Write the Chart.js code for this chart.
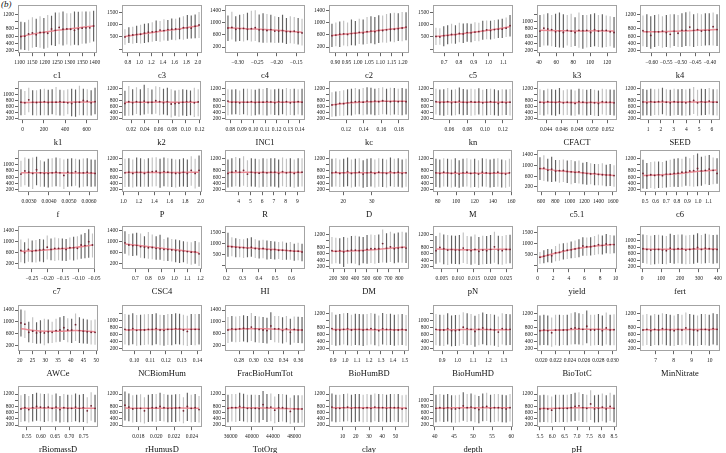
<!DOCTYPE html>
<html>
<head>
<meta charset="utf-8">
<script src="https://cdn.jsdelivr.net/npm/chart.js@4.4.1/dist/chart.umd.min.js"></script>
<style>
  html, body { margin: 0; padding: 0; background: #fff; }
  #wrap { position: relative; width: 726px; height: 453px; overflow: hidden; }
  #wrap canvas { position: absolute; }
  #tag { position: absolute; left: 1px; top: -1px; font: italic 9px "Liberation Serif", serif; color: #111; }
</style>
</head>
<body>
<div id="wrap"><div id="tag">(b)</div></div>
<script>
// one panel per input parameter, read left to right, top to bottom
const names = ['c1','c3','c4','c2','c5','k3','k4',
  'k1','k2','INC1','kc','kn','CFACT','SEED',
  'f','P','R','D','M','c5.1','c6',
  'c7','CSC4','HI','DM','pN','yield','fert',
  'AWCe','NCBiomHum','FracBioHumTot','BioHumBD','BioHumHD','BioTotC','MinNitrate',
  'rBiomassD','rHumusD','TotOrg','clay','depth','pH'];

// first and last bin centre on the x axis
const xSpan = [[1105,1395],[0.75,2.02],[-0.325,-0.135],[0.885,1.215],[0.645,1.145],[41,128],[-0.63,-0.375],
  [-15,680],[0.011,0.118],[0.078,0.142],[0.104,0.188],[0.045,0.128],[0.0432,0.0528],[0.6,6.4],
  [0.0026,0.0063],[1.02,1.98],[3.1,9.4],[16,42],[78,158],[585,1615],[0.48,1.18],
  [-0.285,-0.055],[0.62,1.19],[0.21,0.665],[190,860],[0.0032,0.0262],[0.3,9.8],[5,395],
  [20.5,49.5],[0.094,0.141],[0.265,0.365],[0.89,1.51],[0.86,1.34],[0.0198,0.0302],[6.3,10.4],
  [0.53,0.79],[0.0165,0.0248],[35500,49500],[2,58],[40.3,59.7],[5.5,8.5]];

const xTicks = [[1100,1150,1200,1250,1300,1350,1400],[0.8,1.0,1.2,1.4,1.6,1.8,2.0],[-0.30,-0.25,-0.20,-0.15],
  [0.90,0.95,1.00,1.05,1.10,1.15,1.20],[0.7,0.8,0.9,1.0,1.1],[40,60,80,100,120],[-0.60,-0.55,-0.50,-0.45,-0.40],
  [0,200,400,600],[0.02,0.04,0.06,0.08,0.10,0.12],[0.08,0.09,0.10,0.11,0.12,0.13,0.14],[0.12,0.14,0.16,0.18],
  [0.06,0.08,0.10,0.12],[0.044,0.046,0.048,0.050,0.052],[1,2,3,4,5,6],
  [0.0030,0.0040,0.0050,0.0060],[1.0,1.2,1.4,1.6,1.8,2.0],[4,5,6,7,8,9],[20,30],[80,100,120,140,160],
  [600,800,1000,1200,1400,1600],[0.5,0.6,0.7,0.8,0.9,1.0,1.1],
  [-0.25,-0.20,-0.15,-0.10,-0.05],[0.7,0.8,0.9,1.0,1.1,1.2],[0.2,0.3,0.4,0.5,0.6],[200,300,400,500,600,700,800],
  [0.005,0.010,0.015,0.020,0.025],[0,2,4,6,8,10],[0,100,200,300,400],
  [20,25,30,35,40,45,50],[0.10,0.11,0.12,0.13,0.14],[0.28,0.30,0.32,0.34,0.36],[0.9,1.0,1.1,1.2,1.3,1.4,1.5],
  [0.9,1.0,1.1,1.2,1.3],[0.020,0.022,0.024,0.026,0.028,0.030],[7,8,9,10],
  [0.55,0.60,0.65,0.70,0.75],[0.018,0.020,0.022,0.024],[36000,40000,44000,48000],[10,20,30,40,50],
  [40,45,50,55,60],[5.5,6.0,6.5,7.0,7.5,8.0,8.5]];
const xDec = [0,1,2,2,1,0,2, 0,2,2,2,2,3,0, 4,1,0,0,0,0,1, 2,1,1,0,3,0,0, 0,2,2,1,1,3,0, 2,3,0,0,0,1];

// y axis kind per panel and the tick whose label is left out
const yKind = 'acbbcaa' + 'aaaaaaa' + 'aaaaaba' + 'bbcaaca' + 'babaaaa' + 'aaaaaa';
const yBlank = [1000,0,0,0,0,1200,1000, 1200,1000,1000,1000,1000,1000,1000,
  1200,1000,1000,1000,1000,0,1000, 0,0,0,1000,1000,0,1200,
  0,1200,0,1000,1200,1000,1000, 1000,1000,1000,1000,1200,1000];
const yTicksA = [200,400,600,800,1000,1200];
const yTicksB = [200,600,1000,1400];
const yTicksC = [0,500,1000,1500];

// bin means
const means = [
  [590,600,660,690,640,700,700,680,800,760,840,790,800,790,760,800,820,830,830,880],
  [500,560,580,600,610,660,700,710,720,780,760,800,820,830,810,880,870,860,940,990],
  [820,840,780,800,810,780,800,830,760,760,740,770,720,720,740,700,700,720,680,660],
  [570,590,620,630,610,640,650,680,660,700,720,700,740,740,760,780,780,800,820,850],
  [520,500,550,560,600,590,640,620,680,670,700,720,750,790,760,800,820,820,860,960],
  [740,820,800,780,720,740,700,760,740,700,760,750,760,700,780,740,760,760,720,700],
  [750,720,620,720,720,740,700,650,740,680,760,760,850,760,780,740,760,760,860,780],
  [740,720,820,740,730,740,760,730,740,740,760,740,720,700,740,740,800,780,720,760],
  [700,760,720,760,740,780,730,740,790,760,720,760,680,700,710,740,760,770,720,750],
  [780,740,740,720,740,740,760,730,740,740,760,750,720,760,740,760,720,740,760,740],
  [650,660,700,690,720,740,760,760,740,780,760,780,760,790,770,760,780,760,770,760],
  [760,730,740,760,720,740,780,740,730,760,740,750,720,740,760,740,700,740,720,740],
  [740,720,760,740,730,760,720,740,730,700,760,740,720,740,720,700,760,740,740,720],
  [750,720,760,740,760,780,740,720,760,740,740,720,760,800,720,760,740,780,740,740],
  [700,800,760,720,840,740,720,720,740,760,740,660,760,740,780,740,740,760,740,720],
  [740,760,720,760,760,720,760,780,790,740,780,760,740,720,730,760,720,820,720,820],
  [720,760,800,760,820,700,760,740,730,760,740,760,760,720,780,740,760,720,760,760],
  [740,760,720,740,780,720,740,760,700,740,760,720,760,740,720,780,740,760,720,740],
  [740,720,760,740,720,760,700,740,760,720,740,700,760,740,720,740,760,720,700,740],
  [880,900,820,860,780,800,810,770,760,740,760,720,700,680,700,660,650,640,640,620],
  [720,650,680,660,680,650,700,700,720,730,760,760,800,810,880,800,820,860,820,720],
  [680,600,720,650,680,700,720,800,720,760,760,760,720,780,780,760,880,860,1000,880],
  [960,880,860,870,820,800,780,790,760,740,720,720,700,680,660,660,640,620,630,560],
  [880,860,840,820,820,800,840,780,760,780,740,720,740,700,700,690,680,660,660,620],
  [700,680,700,660,700,720,720,700,700,740,760,760,760,920,780,820,760,780,800,780],
  [700,800,760,720,740,720,720,780,720,700,740,680,720,700,740,820,720,700,740,740],
  [380,430,480,450,580,600,680,700,720,760,800,900,860,860,900,960,920,990,960,960],
  [760,740,720,740,740,720,700,780,740,760,760,720,740,760,800,740,780,760,740,740],
  [960,920,640,680,620,640,620,660,640,700,720,800,720,720,900,700,680,660,640,640],
  [760,740,780,730,740,740,760,760,780,740,730,760,760,780,770,740,700,760,760,760],
  [720,760,740,760,780,760,820,760,740,720,700,860,760,760,700,760,640,740,720,720],
  [780,740,740,760,780,740,760,760,740,760,780,760,720,780,760,760,740,740,760,740],
  [760,740,740,780,720,720,740,820,780,760,700,760,800,760,760,740,680,780,760,760],
  [720,740,720,660,740,740,740,740,780,800,780,760,850,740,740,760,720,800,740,750],
  [740,760,720,760,740,780,760,740,720,760,740,800,760,740,720,760,760,740,780,760],
  [720,760,700,760,800,780,760,780,740,780,700,760,740,740,780,740,760,660,820,740],
  [840,780,720,740,740,660,740,760,760,800,760,740,740,750,760,660,800,740,760,700],
  [740,760,760,800,770,740,740,740,730,860,760,780,680,760,760,740,640,720,720,720],
  [780,740,740,760,780,740,760,760,740,760,740,780,760,760,740,760,760,760,720,740],
  [740,760,740,760,720,720,740,820,760,780,740,700,780,800,740,760,760,740,720,760],
  [720,740,720,680,740,740,740,740,760,800,820,760,740,880,720,740,780,720,800,740]
];

// lower ends of the interval bars
const lows = [
  [230,220,200,280,300,280,250,280,350,330,380,340,370,340,360,350,390,400,420,450],
  [180,250,220,250,230,250,280,300,330,300,350,340,380,360,400,380,420,430,440,460],
  [400,450,380,400,380,420,380,400,360,340,340,350,330,340,340,300,320,310,280,250],
  [200,230,200,250,230,260,250,300,280,300,320,290,330,350,340,380,360,400,390,420],
  [170,180,120,200,230,220,280,250,300,280,330,320,380,400,390,420,450,460,500,520],
  [300,340,340,320,300,290,280,340,300,330,280,250,290,300,320,300,290,300,320,280],
  [320,300,250,300,330,280,300,280,330,300,300,330,320,300,330,330,340,350,340,330],
  [300,310,400,300,290,300,300,300,330,300,290,280,330,260,250,300,300,290,290,330],
  [280,280,300,340,300,320,350,330,350,300,320,300,220,280,250,290,270,300,240,260],
  [300,320,330,310,330,300,280,300,320,300,290,320,310,300,330,290,310,300,320,300],
  [250,260,280,280,300,290,320,330,300,320,320,300,310,330,320,300,320,310,300,320],
  [320,300,280,310,290,300,330,300,310,280,300,320,290,300,310,300,280,300,310,290],
  [310,290,320,300,280,330,300,310,290,280,320,300,290,310,280,270,320,300,310,290],
  [290,300,280,310,300,330,290,280,300,310,290,280,300,340,280,300,310,320,300,290],
  [300,350,300,230,350,300,300,280,300,320,300,230,300,320,330,280,300,320,300,310],
  [290,300,280,310,300,300,300,310,320,270,320,300,290,280,300,310,290,330,250,300],
  [280,300,320,300,330,290,310,300,280,300,290,310,300,280,320,290,300,270,300,310],
  [300,310,290,300,320,280,300,310,270,290,310,280,300,290,280,320,290,300,280,300],
  [290,280,310,300,280,300,270,300,310,280,290,270,310,300,280,290,300,280,270,300],
  [450,420,400,380,400,350,380,340,300,340,320,300,280,300,260,260,250,220,230,200],
  [250,230,260,240,260,260,280,290,300,290,300,330,320,300,320,330,380,360,380,400],
  [250,220,270,250,240,280,250,350,330,300,330,310,300,340,320,350,380,400,420,430],
  [560,500,480,500,420,400,380,360,340,340,300,300,280,250,230,250,200,160,200,120],
  [400,420,380,380,350,380,400,350,320,330,280,300,280,300,250,260,260,220,240,200],
  [300,310,300,200,300,310,300,250,310,300,320,300,320,340,330,350,310,340,330,320],
  [300,340,280,260,300,290,280,320,290,270,300,260,280,290,300,330,280,270,300,310],
  [80,100,150,130,200,220,280,300,330,350,380,450,450,460,480,520,500,560,540,560],
  [320,300,270,280,300,290,280,320,300,310,300,280,290,300,330,300,310,320,300,310],
  [500,450,300,280,250,260,200,270,280,300,320,380,300,280,350,280,260,250,230,220],
  [320,300,330,290,300,310,320,300,330,300,290,310,300,330,320,300,280,310,300,320],
  [280,320,300,310,330,300,350,300,290,280,260,380,300,290,260,300,220,290,280,270],
  [310,290,300,320,300,290,310,300,280,300,320,300,270,320,300,310,290,300,310,290],
  [300,290,280,320,270,280,290,340,300,310,260,300,330,300,300,290,250,320,300,310],
  [300,310,300,260,300,290,310,300,320,330,320,300,360,290,300,310,290,320,300,300],
  [290,310,280,310,300,320,300,290,280,310,300,330,300,290,280,310,300,290,320,300],
  [300,320,280,310,340,320,300,320,290,320,280,300,290,300,320,290,300,260,340,290],
  [350,320,280,300,290,250,300,310,300,330,310,290,300,300,310,260,330,290,300,280],
  [290,310,300,330,310,290,300,290,280,360,300,320,260,300,310,290,240,280,270,280],
  [310,290,300,310,320,290,300,310,290,300,290,320,300,310,290,300,310,300,280,290],
  [290,310,300,310,280,270,290,340,300,320,290,260,320,330,290,300,310,290,280,310],
  [290,300,290,270,300,290,300,290,310,330,340,300,290,360,280,290,320,280,330,290]
];

// upper ends of the interval bars
const highs = [
  [1000,980,1050,1120,1080,1150,1100,1180,1160,1250,1250,1280,1230,1230,1280,1270,1280,1280,1280,1300],
  [820,900,920,960,1000,1040,1060,1100,1180,1150,1230,1200,1260,1250,1300,1350,1400,1380,1420,1520],
  [1230,1350,1200,1250,1280,1320,1380,1400,1260,1300,1280,1250,1200,1180,1250,1150,1200,1180,1150,1120],
  [960,1000,1030,1060,1000,1100,1050,1120,1100,1180,1200,1180,1240,1230,1280,1300,1320,1300,1340,1330],
  [880,860,940,980,1040,980,1080,1050,1060,1040,1100,1080,1160,1180,1160,1200,1220,1250,1300,1400],
  [1180,1200,1230,1180,1220,1250,1200,1180,1220,1120,1250,1180,1180,1200,1230,1180,1200,1170,1150,1130],
  [1170,1200,1150,1180,1200,1150,1180,1200,1200,1180,1230,1260,1280,1200,1230,1200,1230,1230,1250,1200],
  [1180,1120,1230,1150,1150,1180,1200,1160,1180,1260,1160,1150,1180,1200,1170,1300,1200,1180,1150,1230],
  [1130,1290,1180,1250,1180,1330,1220,1170,1280,1260,1200,1230,1180,1140,1160,1180,1160,1140,1230,1180],
  [1180,1170,1180,1140,1200,1200,1180,1160,1200,1190,1220,1170,1180,1200,1180,1220,1190,1200,1180,1200],
  [1080,1100,1120,1150,1180,1200,1220,1180,1220,1250,1230,1200,1220,1250,1200,1230,1220,1200,1220,1200],
  [1200,1170,1180,1220,1160,1180,1240,1190,1170,1200,1180,1210,1160,1190,1200,1180,1150,1180,1170,1190],
  [1180,1150,1200,1180,1160,1220,1150,1180,1170,1140,1200,1180,1160,1190,1160,1140,1200,1180,1170,1160],
  [1190,1160,1200,1180,1200,1230,1180,1160,1200,1180,1190,1170,1200,1260,1160,1200,1190,1220,1180,1180],
  [1120,1220,1180,1220,1250,1140,1100,1180,1200,1220,1200,1160,1180,1200,1180,1160,1190,1200,1160,1150],
  [1180,1200,1160,1220,1200,1170,1200,1220,1230,1180,1220,1200,1180,1160,1170,1200,1160,1260,1180,1290],
  [1160,1200,1240,1200,1260,1140,1200,1180,1170,1200,1180,1200,1200,1160,1220,1180,1200,1160,1200,1200],
  [1180,1200,1160,1180,1220,1160,1180,1200,1140,1180,1200,1160,1200,1180,1160,1220,1180,1200,1160,1180],
  [1180,1160,1200,1180,1160,1200,1140,1180,1200,1160,1180,1140,1200,1180,1160,1180,1200,1160,1140,1180],
  [1300,1380,1250,1320,1200,1200,1220,1180,1200,1150,1180,1100,1120,1080,1050,1050,1080,1020,1050,1000],
  [1150,1050,1080,1100,1100,1080,1120,1150,1180,1200,1180,1250,1200,1300,1350,1250,1280,1300,1220,1200],
  [1080,980,1120,1040,1060,1100,1080,1230,1120,1150,1130,1120,1100,1150,1180,1200,1260,1320,1450,1300],
  [1380,1280,1300,1330,1300,1200,1350,1260,1200,1250,1100,1150,1100,1080,1050,1020,1000,980,1030,980],
  [1500,1300,1250,1220,1200,1250,1300,1200,1150,1180,1150,1120,1100,1080,1100,1050,1080,1000,1050,1000],
  [1120,1100,1080,1120,1100,1150,1160,1140,1120,1180,1200,1180,1200,1350,1240,1280,1230,1260,1280,1260],
  [1150,1250,1200,1180,1170,1160,1180,1260,1150,1140,1200,1120,1160,1150,1180,1280,1160,1150,1180,1190],
  [620,700,760,750,900,1000,1020,1050,1100,1150,1200,1300,1280,1300,1350,1420,1380,1450,1400,1380],
  [1200,1180,1160,1180,1190,1170,1150,1220,1180,1200,1200,1170,1180,1190,1240,1180,1220,1200,1180,1190],
  [1420,1380,1000,1150,980,1050,1100,1080,1000,1100,1150,1200,1120,1100,1280,1150,1100,1080,1050,1080],
  [1200,1180,1220,1170,1180,1190,1200,1200,1220,1180,1170,1200,1200,1220,1210,1180,1150,1200,1200,1200],
  [1160,1200,1180,1200,1220,1200,1300,1200,1180,1160,1140,1320,1200,1200,1150,1200,1100,1180,1170,1160],
  [1250,1180,1200,1220,1230,1180,1210,1200,1190,1200,1230,1210,1160,1230,1200,1210,1180,1190,1200,1170],
  [1200,1180,1180,1220,1160,1170,1180,1250,1220,1200,1150,1200,1240,1200,1200,1180,1130,1220,1200,1190],
  [1160,1180,1160,1100,1180,1180,1170,1180,1220,1250,1220,1200,1300,1180,1180,1200,1160,1240,1180,1190],
  [1180,1200,1160,1200,1180,1220,1200,1180,1160,1200,1180,1240,1200,1180,1160,1200,1200,1180,1220,1200],
  [1160,1200,1140,1200,1240,1220,1200,1220,1180,1220,1140,1200,1180,1180,1220,1180,1200,1100,1260,1180],
  [1280,1220,1160,1180,1190,1100,1180,1200,1200,1240,1200,1180,1180,1190,1200,1100,1240,1180,1200,1140],
  [1180,1200,1200,1240,1210,1180,1180,1180,1170,1300,1200,1220,1120,1200,1200,1180,1080,1160,1160,1160],
  [1220,1180,1180,1200,1220,1180,1200,1200,1180,1200,1180,1220,1200,1200,1180,1200,1200,1200,1160,1180],
  [1180,1200,1180,1200,1160,1160,1180,1260,1200,1220,1180,1140,1220,1240,1180,1200,1200,1180,1160,1200],
  [1160,1180,1160,1120,1180,1180,1180,1180,1200,1240,1260,1200,1180,1320,1160,1180,1220,1160,1240,1180]
];

// smooth trend, five points across each panel
const fits = [
  [590,690,760,820,880],[520,630,740,840,960],[830,800,770,730,680],[580,640,700,770,840],
  [520,600,690,790,920],[760,750,740,750,740],[720,720,740,760,780],
  [730,740,740,745,750],[740,740,745,740,735],[745,742,740,742,745],[650,720,760,770,770],
  [750,745,740,740,735],[740,735,730,728,730],[745,745,750,750,750],
  [745,745,740,735,730],[750,750,750,752,760],[750,755,750,750,750],[740,742,740,740,742],
  [735,730,730,728,725],[880,800,740,680,620],[660,680,720,790,830],
  [650,680,730,790,880],[920,840,760,690,600],[880,820,760,700,640],[680,690,720,770,810],
  [750,735,730,740,740],[380,600,780,900,970],[750,745,745,750,750],
  [760,690,680,700,660],[740,750,755,760,760],[740,760,760,740,720],[755,755,750,750,748],
  [745,750,755,750,750],[725,740,760,760,750],[750,750,755,755,760],
  [740,750,750,745,740],[750,740,745,750,740],[750,760,750,730,720],[755,755,755,755,750],
  [745,755,760,760,760],[730,745,760,755,745]
];

// ---- layout / style ----
const yScales = {
  a: { ticks: yTicksA, min: 130, max: 1450 },
  b: { ticks: yTicksB, min: 0, max: 1560 },
  c: { ticks: yTicksC, min: -170, max: 1800 }
};
const shade = [1,1,0,0,1,0,1,0,1,1,0,1,0,0,1,1,0,1,0,1];
const colW = 726 / 7;
const rowTop = [1, 77, 146, 222, 301, 382];
const rowH = [80, 71, 74, 75, 78, 73];
const tickFont = { family: 'Liberation Serif', size: 5.5 };
const titleFont = { family: 'Liberation Serif', size: 8.5 };

const framePlugin = {
    id: 'frame',
    afterDatasetsDraw(chart) {
        const a = chart.chartArea;
        const ctx = chart.ctx;
        ctx.save();
        ctx.strokeStyle = '#a3a3a3';
        ctx.lineWidth = 1;
        ctx.strokeRect(Math.round(a.left) + 0.5, Math.round(a.top) + 0.5,
            Math.round(a.right - a.left) - 1, Math.round(a.bottom - a.top) - 1);
        ctx.restore();
    }
};

function fmt(v, d) {
    return v.toFixed(d).replace('-', '\u2212');
}

const wrap = document.getElementById('wrap');

names.forEach((name, p) => {
    const col = p % 7;
    const row = Math.floor(p / 7);
    const canvas = document.createElement('canvas');
    canvas.width = Math.round(colW);
    canvas.height = rowH[row];
    canvas.style.left = Math.round(col * colW) + 'px';
    canvas.style.top = rowTop[row] + 'px';
    wrap.appendChild(canvas);

    const [xa, xb] = xSpan[p];
    const n = means[p].length;
    const xs = means[p].map((_, i) => xa + i * (xb - xa) / (n - 1));
    const fx = fits[p].map((_, i) => xa + i * (xb - xa) / (fits[p].length - 1));
    const pad = (xb - xa) * 0.04;
    const ys = yScales[yKind[p]];

    new Chart(canvas, {
        type: 'bar',
        data: {
            datasets: [
                {
                    type: 'bar',
                    data: xs.map((x, i) => ({ x: x, y: [lows[p][i], highs[p][i]] })),
                    backgroundColor: xs.map((_, i) => shade[(i + p * 3) % 20] ? '#626262' : '#c2c2c2'),
                    categoryPercentage: 1,
                    barPercentage: 0.3,
                    order: 3
                },
                {
                    type: 'line',
                    data: fx.map((x, i) => ({ x: x, y: fits[p][i] })),
                    borderColor: 'rgba(236,122,134,0.85)',
                    borderWidth: 1.5,
                    pointRadius: 0,
                    tension: 0.4,
                    order: 2
                },
                {
                    type: 'line',
                    showLine: false,
                    data: xs.map((x, i) => ({ x: x, y: means[p][i] })),
                    pointRadius: 0.9,
                    pointBackgroundColor: '#6e2230',
                    pointBorderWidth: 0,
                    order: 1
                }
            ]
        },
        options: {
            responsive: false,
            animation: false,
            events: [],
            layout: { padding: { left: 2, right: 6, top: 3, bottom: 0 } },
            plugins: { legend: { display: false }, tooltip: { enabled: false } },
            scales: {
                x: {
                    type: 'linear',
                    min: xa - pad,
                    max: xb + pad,
                    offset: false,
                    afterBuildTicks: ax => { ax.ticks = xTicks[p].map(v => ({ value: v })); },
                    ticks: {
                        font: tickFont, color: '#222', padding: 3.5, maxRotation: 0, autoSkip: false,
                        callback: v => fmt(v, xDec[p])
                    },
                    grid: { display: true, drawOnChartArea: false, offset: false, tickLength: 3, color: '#666' },
                    border: { display: false },
                    title: { display: true, text: name, font: titleFont, color: '#111', padding: { top: 1, bottom: 0 } }
                },
                y: {
                    min: ys.min,
                    max: ys.max,
                    afterBuildTicks: ax => { ax.ticks = ys.ticks.map(v => ({ value: v })); },
                    ticks: {
                        font: tickFont, color: '#222', padding: 1, autoSkip: false,
                        callback: v => (v === yBlank[p] ? '' : String(v))
                    },
                    grid: { display: true, drawOnChartArea: false, tickLength: 3, color: '#666' },
                    border: { display: false }
                }
            }
        },
        plugins: [framePlugin]
    });
});
</script>
</body>
</html>
